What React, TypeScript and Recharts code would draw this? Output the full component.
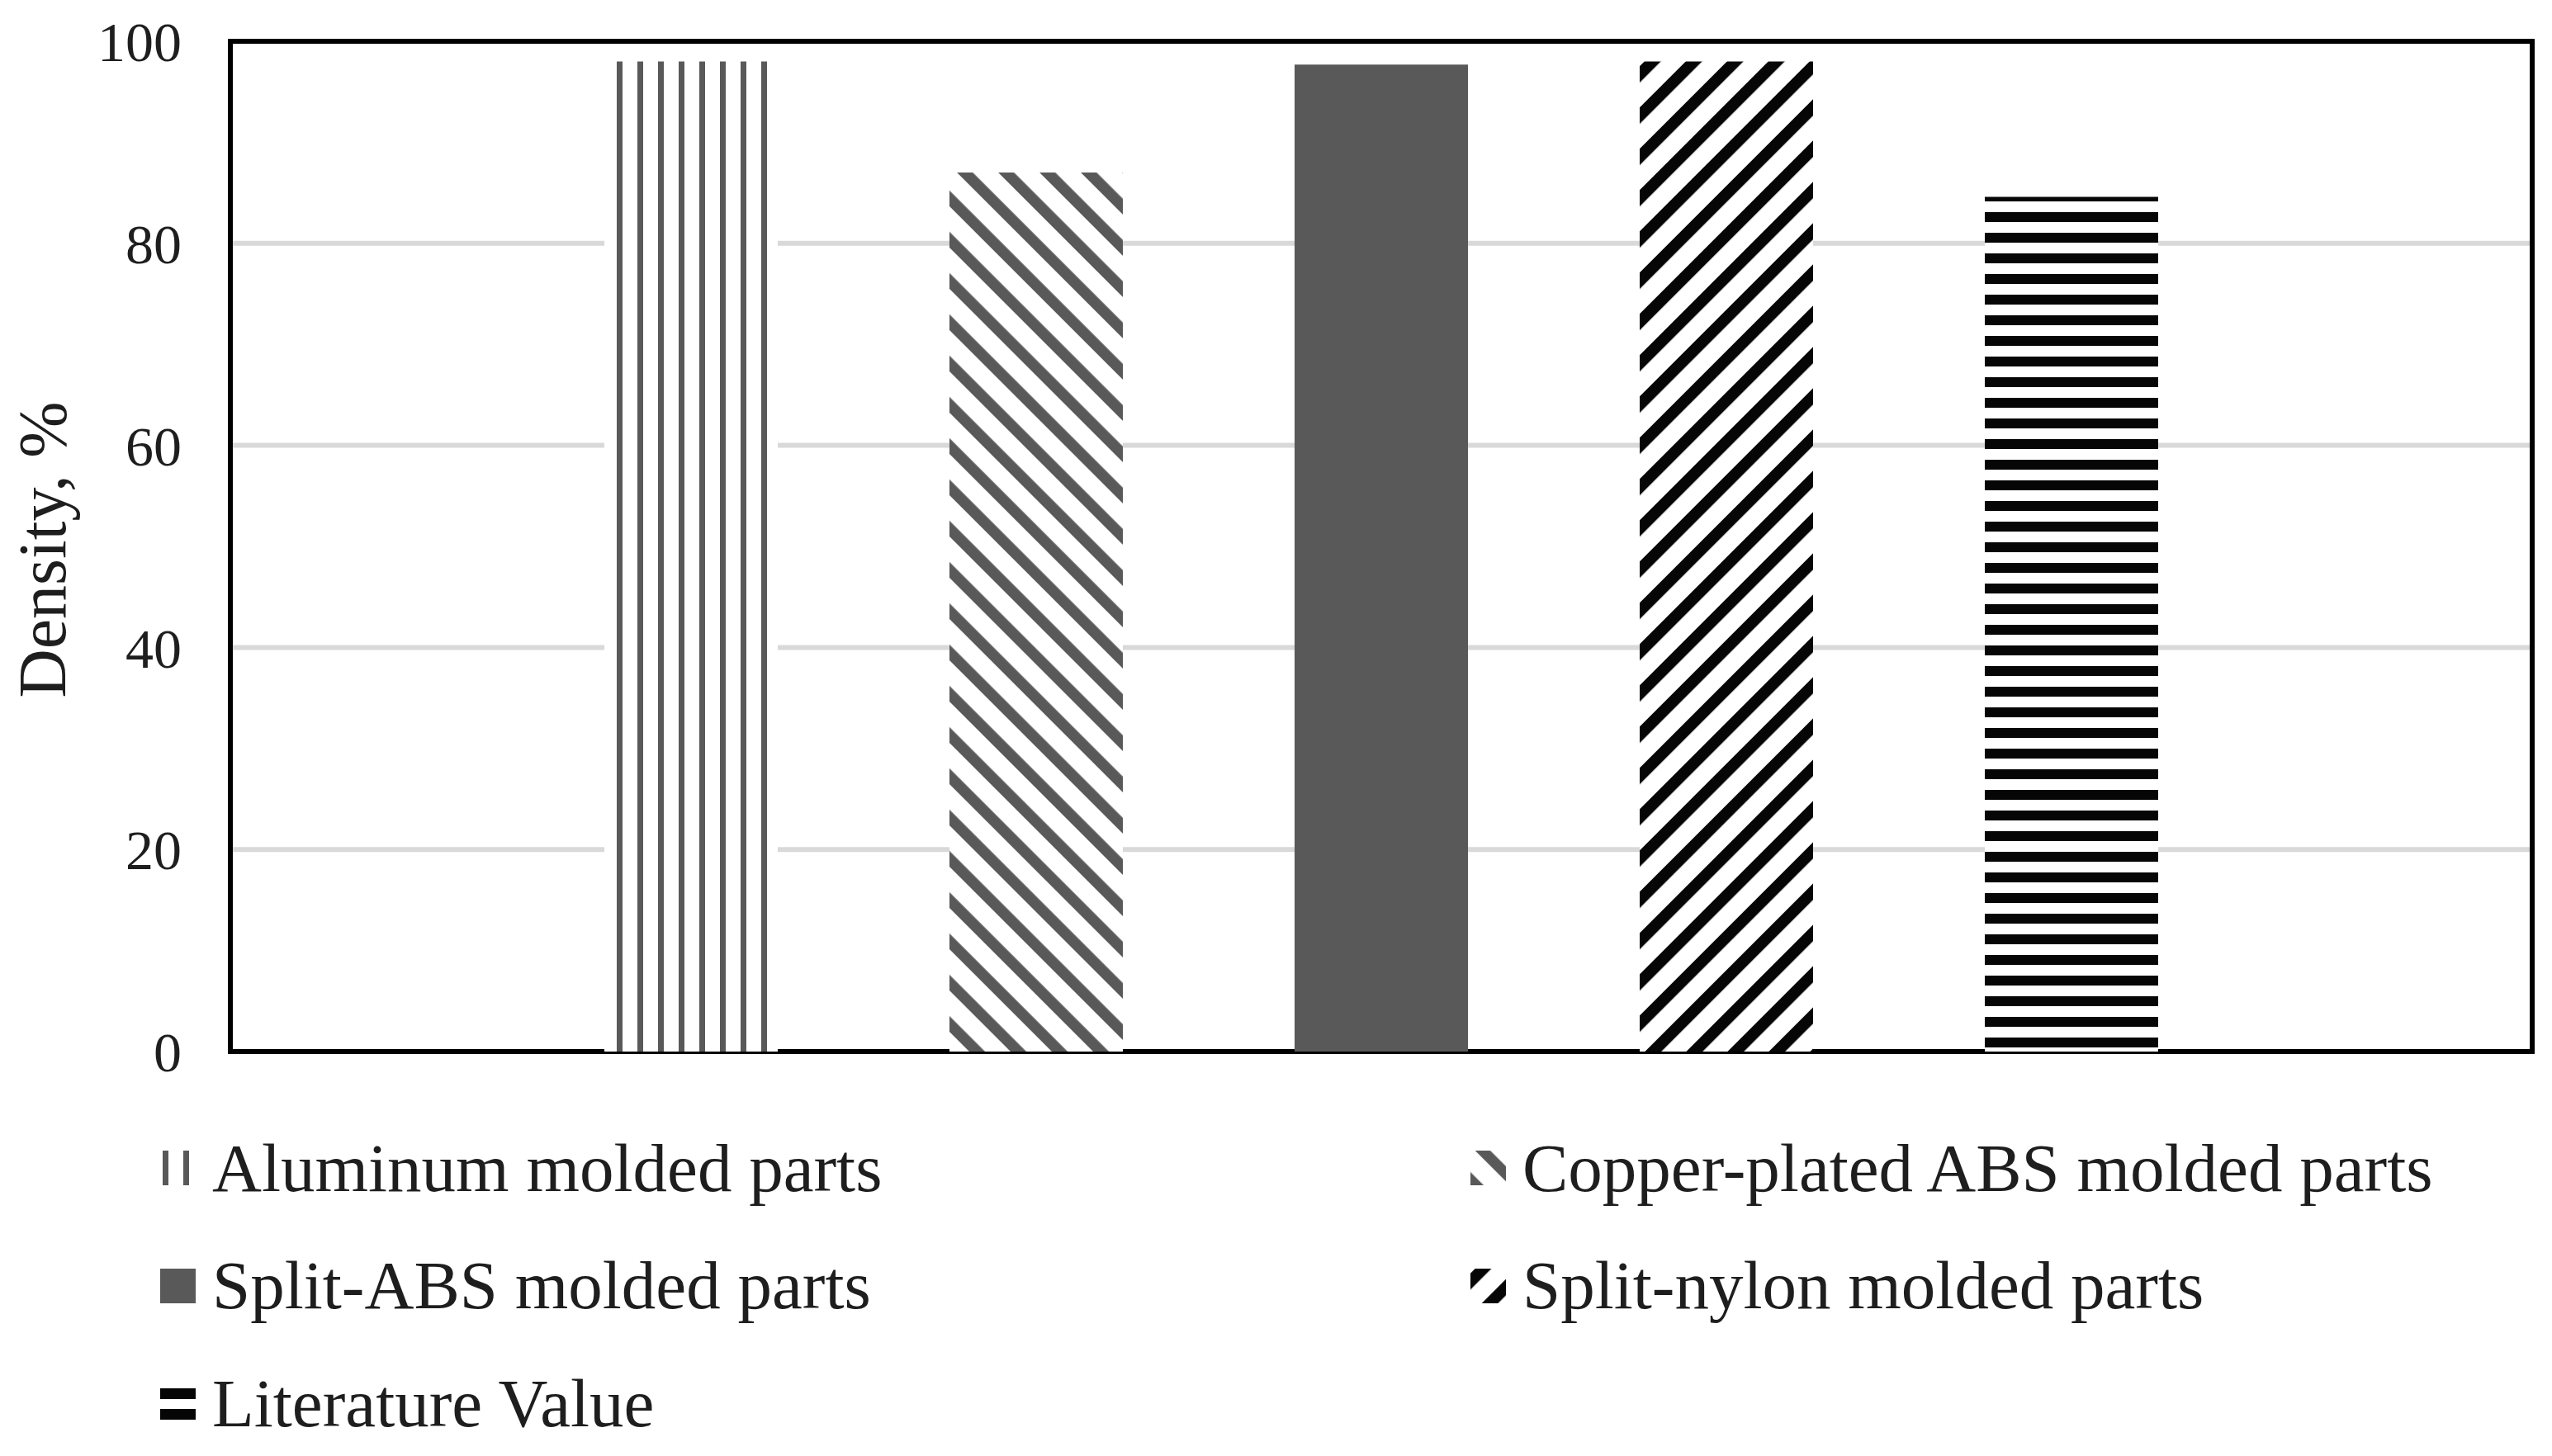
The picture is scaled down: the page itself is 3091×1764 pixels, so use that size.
import React from "react";
import {
  BarChart,
  Bar,
  XAxis,
  YAxis,
  CartesianGrid,
  Legend,
  ReferenceArea,
} from "recharts";

const categories = ["Density"];
const seriesKeys = ["aluminum", "copper", "splitAbs", "splitNylon", "literature"];
const seriesNames = [
  "Aluminum molded parts",
  "Copper-plated ABS molded parts",
  "Split-ABS molded parts",
  "Split-nylon molded parts",
  "Literature Value",
];
const seriesValues = [98.0, 87.0, 97.7, 98.0, 84.6];
const yTicks = [0, 20, 40, 60, 80, 100];
const yLabel = "Density, %";

const data = categories.map((c) => {
  const row: Record<string, string | number> = { name: c };
  seriesKeys.forEach((k, i) => {
    row[k] = seriesValues[i];
  });
  return row;
});

const FONT = "'Liberation Serif', 'Times New Roman', serif";
const GRAY = "#595959";
const BLACK = "#060606";
const TEXT = "#1e1e1e";

const fills: Record<string, string> = {
  aluminum: "url(#pat-alu)",
  copper: "url(#pat-cop)",
  splitAbs: GRAY,
  splitNylon: "url(#pat-nyl)",
  literature: "url(#pat-lit)",
};

const DIAG = 35.36;

function LegendIcon({ k }: { k: string }) {
  const id = "lg-" + k;
  let pat: React.ReactNode = null;
  let fill = GRAY;
  if (k === "aluminum") {
    pat = (
      <pattern id={id} x={3} y={0} width={25} height={25} patternUnits="userSpaceOnUse">
        <rect width={25} height={25} fill="#fff" />
        <rect x={0} y={0} width={7} height={25} fill={GRAY} />
      </pattern>
    );
    fill = `url(#${id})`;
  } else if (k === "copper") {
    pat = (
      <pattern id={id} x={0} y={0} width={DIAG} height={DIAG} patternUnits="userSpaceOnUse" patternTransform="rotate(-45)">
        <rect width={DIAG} height={DIAG} fill="#fff" />
        <rect x={4} y={0} width={13} height={DIAG} fill={GRAY} />
      </pattern>
    );
    fill = `url(#${id})`;
  } else if (k === "splitNylon") {
    pat = (
      <pattern id={id} x={0} y={0} width={DIAG} height={DIAG} patternUnits="userSpaceOnUse" patternTransform="rotate(45)">
        <rect width={DIAG} height={DIAG} fill="#fff" />
        <rect x={4} y={0} width={14} height={DIAG} fill={BLACK} />
      </pattern>
    );
    fill = `url(#${id})`;
  } else if (k === "literature") {
    pat = (
      <pattern id={id} x={0} y={3} width={25} height={25} patternUnits="userSpaceOnUse">
        <rect width={25} height={25} fill="#fff" />
        <rect x={0} y={0} width={25} height={13} fill={BLACK} />
      </pattern>
    );
    fill = `url(#${id})`;
  }
  return (
    <svg width={43} height={42} style={{ display: "block", flex: "none" }}>
      <defs>{pat}</defs>
      <rect x={0} y={0} width={43} height={42} fill={fill} />
    </svg>
  );
}

function renderLegend(props: any) {
  const payload: any[] = [...(props.payload || [])].sort(
    (a: any, b: any) =>
      seriesKeys.indexOf(String(a.dataKey)) - seriesKeys.indexOf(String(b.dataKey))
  );
  return (
    <div
      style={{
        display: "grid",
        gridTemplateColumns: "1587px 1200px",
        gridAutoRows: "142.5px",
        fontFamily: FONT,
        fontSize: 83,
        color: TEXT,
      }}
    >
      {payload.map((entry: any) => {
        const k = String(entry.dataKey);
        return (
          <div key={k} style={{ display: "flex", alignItems: "center", whiteSpace: "nowrap" }}>
            <LegendIcon k={k} />
            <span style={{ marginLeft: 20, lineHeight: 1 }}>{entry.value}</span>
          </div>
        );
      })}
    </div>
  );
}

function YLabel(props: any) {
  const vb = props.viewBox || { x: 71, y: 42, width: 200, height: 1224 };
  const x = vb.x;
  const y = vb.y + vb.height / 2 + 4;
  return (
    <text
      x={x}
      y={y}
      transform={`rotate(-90, ${x}, ${y})`}
      textAnchor="middle"
      fontFamily={FONT}
      fontSize={82}
      fill={TEXT}
    >
      {yLabel}
    </text>
  );
}

export default function App() {
  return (
    <div style={{ width: 3083, height: 1748, background: "#fff" }}>
      <BarChart
        width={3083}
        height={1748}
        data={data}
        margin={{ top: 42, right: 24, bottom: 482, left: 71 }}
        barSize={210}
        barGap={208}
      >
        <defs>
          <pattern id="pat-alu" x={14} y={0} width={25} height={25} patternUnits="userSpaceOnUse">
            <rect width={25} height={25} fill="#fff" />
            <rect x={0} y={0} width={7} height={25} fill={GRAY} />
          </pattern>
          <pattern id="pat-lit" x={0} y={24} width={25} height={25} patternUnits="userSpaceOnUse">
            <rect width={25} height={25} fill="#fff" />
            <rect x={0} y={0} width={25} height={12} fill={BLACK} />
          </pattern>
          <pattern id="pat-cop" x={0} y={0} width={DIAG} height={DIAG} patternUnits="userSpaceOnUse" patternTransform="rotate(-45)">
            <rect width={DIAG} height={DIAG} fill="#fff" />
            <rect x={0} y={0} width={13.5} height={DIAG} fill={GRAY} />
          </pattern>
          <pattern id="pat-nyl" x={0} y={0} width={DIAG} height={DIAG} patternUnits="userSpaceOnUse" patternTransform="rotate(45)">
            <rect width={DIAG} height={DIAG} fill="#fff" />
            <rect x={0} y={0} width={14} height={DIAG} fill={BLACK} />
          </pattern>
        </defs>
        <CartesianGrid vertical={false} stroke="#d9d9d9" strokeWidth={6} />
        <XAxis dataKey="name" hide />
        <YAxis
          domain={[0, 100]}
          ticks={yTicks}
          width={200}
          axisLine={false}
          tickLine={false}
          tickSize={6}
          tickMargin={53}
          tick={{ fontFamily: FONT, fontSize: 68, fill: TEXT }}
          label={<YLabel />}
        />
        {seriesKeys.map((k, i) => (
          <Bar
            key={k}
            dataKey={k}
            name={seriesNames[i]}
            fill={fills[k]}
            isAnimationActive={false}
          />
        ))}
        <ReferenceArea
          y1={0}
          y2={100}
          fill="none"
          fillOpacity={0}
          stroke="#000"
          strokeWidth={6}
          ifOverflow="visible"
        />
        <Legend
          verticalAlign="middle"
          align="center"
          layout="horizontal"
          itemSorter={null as any}
          content={renderLegend}
          wrapperStyle={{ left: 186, top: 1336, width: 2880, height: 430 }}
        />
      </BarChart>
    </div>
  );
}
